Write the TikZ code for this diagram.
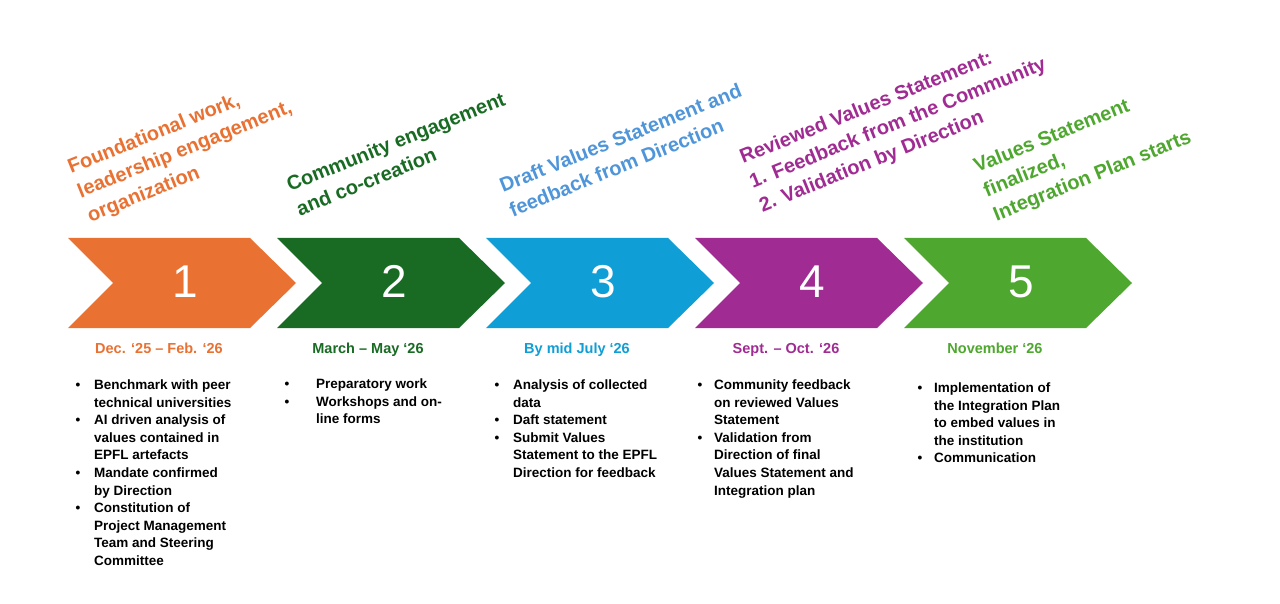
\documentclass[tikz,border=0pt]{standalone}
\usepackage{fontspec}
\setmainfont{Liberation Sans}
\definecolor{corange}{HTML}{E97132}
\definecolor{cdgreen}{HTML}{196B24}
\definecolor{cblue}{HTML}{0F9ED5}
\definecolor{cpurple}{HTML}{A02B93}
\definecolor{cgreen}{HTML}{4EA72E}
\definecolor{clblue}{HTML}{4E95D9}
\newcommand\mylines[1]{\begin{tabular}[t]{@{}l@{}}#1\end{tabular}}
\newcommand\blist[2]{\begin{tabular}[t]{@{}p{#1}@{}l@{}}#2\end{tabular}}
\begin{document}
\begin{tikzpicture}[x=1pt,y=-1pt,
  header/.style={anchor=base west, rotate=22, inner sep=0, font=\fontsize{20}{26}\selectfont\bfseries},
  numtxt/.style={anchor=base, inner sep=0, text=white, font=\fontsize{46}{46}\selectfont},
  datetxt/.style={anchor=base, inner sep=0, font=\fontsize{14.5}{17}\selectfont\bfseries},
  bullets/.style={anchor=base west, inner sep=0, font=\fontsize{13.5}{17.6}\selectfont\bfseries}]
\useasboundingbox[fill=white] (0,0) rectangle (1280,604);
% chevrons
\foreach \i/\c in {1/corange,2/cdgreen,3/cblue,4/cpurple,5/cgreen}{
  \pgfmathsetmacro\L{68+(\i-1)*209}
  \fill[\c] (\L,238) -- ++(182,0) -- ++(46,45) -- ++(-46,45) -- ++(-182,0) -- ++(45,-45) -- cycle;
  \node[numtxt] (n\i) at (\L+117,298) {\i};
}
% headers
\node[header, text=corange] (h1) at (71,174) {\mylines{Foundational work,\\leadership engagement,\\organization}};
\node[header, text=cdgreen] (h2) at (290,192) {\mylines{Community engagement\\and co-creation}};
\node[header, text=clblue] (h3) at (503,193) {\mylines{Draft Values Statement and\\feedback from Direction}};
\node[header, text=cpurple] (h4) at (743,164) {\mylines{Reviewed Values Statement:\\1. Feedback from the Community\\2. Validation by Direction}};
\node[header, text=cgreen] (h5) at (977,173) {\mylines{Values Statement\\finalized,\\Integration Plan starts}};
% dates
\node[datetxt, text=corange] (d1) at (159,353) {Dec. ‘25 – Feb. ‘26};
\node[datetxt, text=cdgreen] (d2) at (368,353) {March – May ‘26};
\node[datetxt, text=cblue] (d3) at (577,353) {By mid July ‘26};
\node[datetxt, text=cpurple] (d4) at (786,353) {Sept. – Oct. ‘26};
\node[datetxt, text=cgreen] (d5) at (995,353) {November ‘26};
% bullet lists
\node[bullets] (b1) at (75.5,389.5) {\blist{18.5pt}{%
\textbullet & Benchmark with peer\\ & technical universities\\
\textbullet & AI driven analysis of\\ & values contained in\\ & EPFL artefacts\\
\textbullet & Mandate confirmed\\ & by Direction\\
\textbullet & Constitution of\\ & Project Management\\ & Team and Steering\\ & Committee}};
\node[bullets] (b2) at (284.5,388.5) {\blist{31.5pt}{%
\textbullet & Preparatory work\\
\textbullet & Workshops and on-\\ & line forms}};
\node[bullets] (b3) at (494.5,389.5) {\blist{18.5pt}{%
\textbullet & Analysis of collected\\ & data\\
\textbullet & Daft statement\\
\textbullet & Submit Values\\ & Statement to the EPFL\\ & Direction for feedback}};
\node[bullets] (b4) at (697.5,389.5) {\blist{16.5pt}{%
\textbullet & Community feedback\\ & on reviewed Values\\ & Statement\\
\textbullet & Validation from\\ & Direction of final\\ & Values Statement and\\ & Integration plan}};
\node[bullets] (b5) at (917.5,392.5) {\blist{16.5pt}{%
\textbullet & Implementation of\\ & the Integration Plan\\ & to embed values in\\ & the institution\\
\textbullet & Communication}};
\end{tikzpicture}
\end{document}
